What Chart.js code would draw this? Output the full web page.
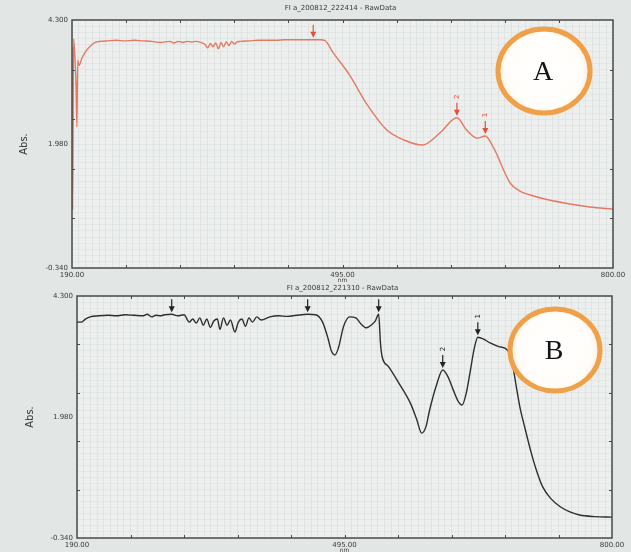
<!DOCTYPE html>
<html>
<head>
<meta charset="utf-8">
<script src="https://cdn.jsdelivr.net/npm/chart.js@4"></script>
<style>
  html, body { margin: 0; padding: 0; background: #e2e6e4; }
  #wrap { position: relative; width: 631px; height: 552px; overflow: hidden; }
  canvas { position: absolute; left: 0; }
</style>
</head>
<body>
<div id="wrap">
  <canvas id="chartA" width="631" height="284" style="top:0"></canvas>
  <canvas id="chartB" width="631" height="268" style="top:284px"></canvas>
</div>
<script>
// ---- axis ticks ----
const X_MIN = 190, X_MAX = 800;
const Y_MIN = -0.34, Y_MAX = 4.3;
const X_TICKS = [190, 251, 312, 373, 434, 495, 556, 617, 678, 739, 800];
const X_LABELED = [190, 495, 800];
const Y_TICKS = [-0.34, 0.588, 1.516, 1.98, 2.444, 3.372, 4.3];
const Y_LABELED = [4.3, 1.98, -0.34];
const Y_DIVS = [0.588, 1.516, 2.444, 3.372];

// ---- spectrum A (red) ----
const WL_A = [190, 190.8, 191.8, 193, 194.5, 195.5, 196.5, 198, 201, 205, 210, 216, 222,
  230, 240, 250, 260, 270, 280, 290, 300, 305, 310, 315, 320, 325, 330, 335, 340, 343, 346,
  349, 352, 355, 358, 361, 364, 367, 370, 373, 376, 380, 390, 400, 410, 420, 430, 440, 450,
  462, 470, 475, 484, 503, 523, 545, 565, 585, 605, 624, 635, 647, 656, 665, 684, 695, 706,
  723, 744, 774, 800];
const ABS_A = [3.80, 0.75, 3.95, 3.70, 3.10, 2.30, 3.55, 3.45, 3.58, 3.70, 3.80, 3.88, 3.90,
  3.91, 3.92, 3.91, 3.92, 3.91, 3.90, 3.88, 3.90, 3.87, 3.90, 3.88, 3.90, 3.89, 3.90, 3.88, 3.84, 3.78, 3.86,
  3.80, 3.87, 3.76, 3.88, 3.80, 3.89, 3.82, 3.90, 3.85, 3.89, 3.90, 3.91, 3.92, 3.92, 3.92, 3.93, 3.93, 3.93,
  3.93, 3.93, 3.92, 3.70, 3.27, 2.71, 2.24, 2.05, 1.96, 2.19, 2.47, 2.24, 2.09, 2.13, 1.92, 1.25, 1.10, 1.03,
  0.95, 0.88, 0.80, 0.76];
const ARROW_A_WL = [462, 624, 656];
const ARROW_A_ABS = [3.93, 2.47, 2.13];
const PEAK_A = ['', '2', '1'];

// ---- spectrum B (black) ----
const WL_B = [190, 195, 200, 205, 215, 225, 235, 245, 255, 265, 270, 275, 280, 285, 290, 298,
  305, 312, 318, 322, 326, 330, 334, 338, 342, 346, 350, 353, 357, 361, 365, 370, 374, 378,
  382, 386, 390, 395, 400, 410, 420, 430, 440, 453, 462, 470, 476, 480, 484, 488, 494, 501,
  508, 514, 520, 526, 530, 534, 536, 538, 545, 557, 570, 577, 583, 588, 592, 600, 607, 613,
  619, 624, 629, 634, 638, 643, 647, 653, 661, 671, 681, 687, 691, 695, 701, 707, 714, 721,
  730, 741, 752, 763, 780, 800];
const ABS_B = [3.80, 3.80, 3.86, 3.90, 3.92, 3.93, 3.92, 3.94, 3.93, 3.92, 3.95, 3.90, 3.93, 3.92, 3.94, 3.95,
  3.92, 3.94, 3.80, 3.86, 3.78, 3.88, 3.74, 3.86, 3.70, 3.82, 3.86, 3.66, 3.88, 3.74, 3.84, 3.61, 3.80, 3.86,
  3.72, 3.88, 3.80, 3.90, 3.84, 3.90, 3.92, 3.91, 3.93, 3.95, 3.94, 3.80, 3.50, 3.25, 3.17, 3.30, 3.72, 3.90,
  3.88, 3.76, 3.69, 3.75, 3.82, 3.95, 3.40, 3.13, 2.95, 2.63, 2.25, 1.95, 1.67, 1.80, 2.11, 2.60, 2.88, 2.75,
  2.50, 2.30, 2.21, 2.45, 2.82, 3.30, 3.51, 3.48, 3.40, 3.33, 3.26, 2.94, 2.55, 2.17, 1.75, 1.35, 0.95, 0.64,
  0.42, 0.26, 0.16, 0.10, 0.07, 0.06];
const ARROW_B_WL = [298, 453, 534, 607, 647];
const ARROW_B_ABS = [3.95, 3.95, 3.95, 2.88, 3.51];
const PEAK_B = ['', '', '', '2', '1'];

const FONT = '"DejaVu Sans"';

// Draws the photographed-screen look: frame, inward ticks, titles, arrows and the lettered badge
const decor = {
  id: 'decor',
  beforeDraw(chart) {
    const { ctx, chartArea: a } = chart;
    ctx.save();
    ctx.fillStyle = '#e2e6e4';
    ctx.fillRect(0, 0, chart.width, chart.height);
    ctx.fillStyle = '#edefee';
    ctx.fillRect(a.left, a.top, a.right - a.left, a.bottom - a.top);
    ctx.restore();
  },
  afterDraw(chart, args, o) {
    const { ctx, chartArea: a, scales: { x, y } } = chart;
    ctx.save();
    ctx.strokeStyle = '#4a4a4a';
    ctx.lineWidth = 1.5;
    ctx.strokeRect(a.left, a.top, a.right - a.left, a.bottom - a.top);

    ctx.lineWidth = 1;
    ctx.beginPath();
    X_TICKS.slice(1, -1).forEach(v => {
      const px = Math.round(x.getPixelForValue(v)) + 0.5;
      ctx.moveTo(px, a.top); ctx.lineTo(px, a.top + 3);
      ctx.moveTo(px, a.bottom); ctx.lineTo(px, a.bottom - 3);
    });
    Y_DIVS.forEach(v => {
      const py = Math.round(y.getPixelForValue(v)) + 0.5;
      ctx.moveTo(a.left, py); ctx.lineTo(a.left + 3, py);
      ctx.moveTo(a.right, py); ctx.lineTo(a.right - 3, py);
    });
    ctx.stroke();

    ctx.fillStyle = '#3a3a3a';
    ctx.textAlign = 'center';
    ctx.textBaseline = 'middle';
    ctx.font = '7px ' + FONT;
    ctx.fillText(o.title, (a.left + a.right) / 2 - 2, a.top - o.titleGap);
    ctx.font = '6px ' + FONT;
    ctx.fillText('nm', x.getPixelForValue(495), a.bottom + 12);

    ctx.save();
    ctx.translate(o.absX, (a.top + a.bottom) / 2);
    ctx.rotate(-Math.PI / 2);
    ctx.font = '10px ' + FONT;
    ctx.fillStyle = '#333';
    ctx.fillText('Abs.', 0, 0);
    ctx.restore();

    // peak arrows
    ctx.strokeStyle = o.arrowColor;
    ctx.fillStyle = o.arrowColor;
    ctx.lineWidth = 1.2;
    o.arrowWl.forEach((wl, i) => {
      const px = x.getPixelForValue(wl);
      const py = y.getPixelForValue(o.arrowAbs[i]) - 2;
      ctx.beginPath();
      ctx.moveTo(px, py - 13); ctx.lineTo(px, py - 3);
      ctx.stroke();
      ctx.beginPath();
      ctx.moveTo(px - 3, py - 6); ctx.lineTo(px + 3, py - 6); ctx.lineTo(px, py);
      ctx.closePath();
      ctx.fill();
      if (o.peaks[i]) {
        ctx.save();
        ctx.translate(px, py - 19);
        ctx.rotate(-Math.PI / 2);
        ctx.font = '7px ' + FONT;
        ctx.fillText(o.peaks[i], 0, 0);
        ctx.restore();
      }
    });

    // lettered badge
    const g = ctx.createRadialGradient(o.cx, o.cy, 4, o.cx, o.cy, o.rx);
    g.addColorStop(0, '#ffffff');
    g.addColorStop(0.8, '#fffdf9');
    g.addColorStop(1, '#fbeede');
    ctx.beginPath();
    ctx.ellipse(o.cx, o.cy, o.rx, o.ry, 0, 0, Math.PI * 2);
    ctx.fillStyle = g;
    ctx.fill();
    ctx.lineWidth = 5;
    ctx.strokeStyle = '#f0a048';
    ctx.stroke();
    ctx.fillStyle = '#151515';
    ctx.font = '28px "Liberation Serif"';
    ctx.fillText(o.letter, o.cx - 1, o.cy + 2);
    ctx.restore();
  }
};

function makeChart(id, wl, abs, color, pad, xHeight, deco) {
  return new Chart(document.getElementById(id), {
    type: 'line',
    data: {
      datasets: [{
        data: wl.map((v, i) => ({ x: v, y: abs[i] })),
        borderColor: color,
        borderWidth: 1.4,
        pointRadius: 0,
        cubicInterpolationMode: 'monotone',
        xAxisID: 'x',
        yAxisID: 'y',
      }],
    },
    options: {
      responsive: false,
      animation: false,
      layout: { padding: pad },
      plugins: { legend: { display: false }, tooltip: { enabled: false }, decor: deco },
      scales: {
        x: {
          type: 'linear', min: X_MIN, max: X_MAX,
          afterBuildTicks: (s) => { s.ticks = X_TICKS.map(v => ({ value: v })); },
          afterFit: (s) => { s.height = xHeight; },
          grid: { display: false, drawTicks: false },
          border: { display: false },
          ticks: {
            autoSkip: false, maxRotation: 0, padding: 3,
            color: '#3a3a3a', font: { family: 'DejaVu Sans', size: 7 },
            callback: (v) => X_LABELED.includes(v) ? v.toFixed(2) : '',
          },
        },
        y: {
          min: Y_MIN, max: Y_MAX,
          afterBuildTicks: (s) => { s.ticks = Y_TICKS.map(v => ({ value: v })); },
          afterFit: (s) => { s.width = pad.yWidth; },
          grid: { display: false, drawTicks: false },
          border: { display: false },
          ticks: {
            autoSkip: false, padding: 4,
            color: '#3a3a3a', font: { family: 'DejaVu Sans', size: 7 },
            callback: (v) => Y_LABELED.includes(v) ? v.toFixed(3) : '',
          },
        },
        xg: {
          type: 'linear', position: 'bottom', min: X_MIN, max: X_MAX,
          afterFit: (s) => { s.height = 0; },
          ticks: { display: false, stepSize: 7.625, maxTicksLimit: 200 },
          grid: { color: 'rgba(176,190,192,0.2)', drawTicks: false },
          border: { display: false },
        },
        yg: {
          type: 'linear', position: 'left', min: Y_MIN, max: Y_MAX,
          afterFit: (s) => { s.width = 0; },
          ticks: { display: false, stepSize: 0.116, maxTicksLimit: 200 },
          grid: { color: 'rgba(176,190,192,0.16)', drawTicks: false },
          border: { display: false },
        },
      },
    },
    plugins: [decor],
  });
}

makeChart('chartA', WL_A, ABS_A, '#e27a62',
  { top: 20, right: 18, left: 0, bottom: 0, yWidth: 72 }, 16,
  { title: 'FI a_200812_222414 - RawData', titleGap: 12, absX: 24,
    arrowWl: ARROW_A_WL, arrowAbs: ARROW_A_ABS, peaks: PEAK_A, arrowColor: '#e2503c',
    cx: 544, cy: 71, rx: 46, ry: 42, letter: 'A' });

makeChart('chartB', WL_B, ABS_B, '#2e2e2e',
  { top: 12, right: 19, left: 0, bottom: 0, yWidth: 77 }, 14,
  { title: 'FI a_200812_221310 - RawData', titleGap: 8, absX: 30,
    arrowWl: ARROW_B_WL, arrowAbs: ARROW_B_ABS, peaks: PEAK_B, arrowColor: '#222222',
    cx: 555, cy: 66, rx: 45, ry: 41, letter: 'B' });
</script>
</body>
</html>
